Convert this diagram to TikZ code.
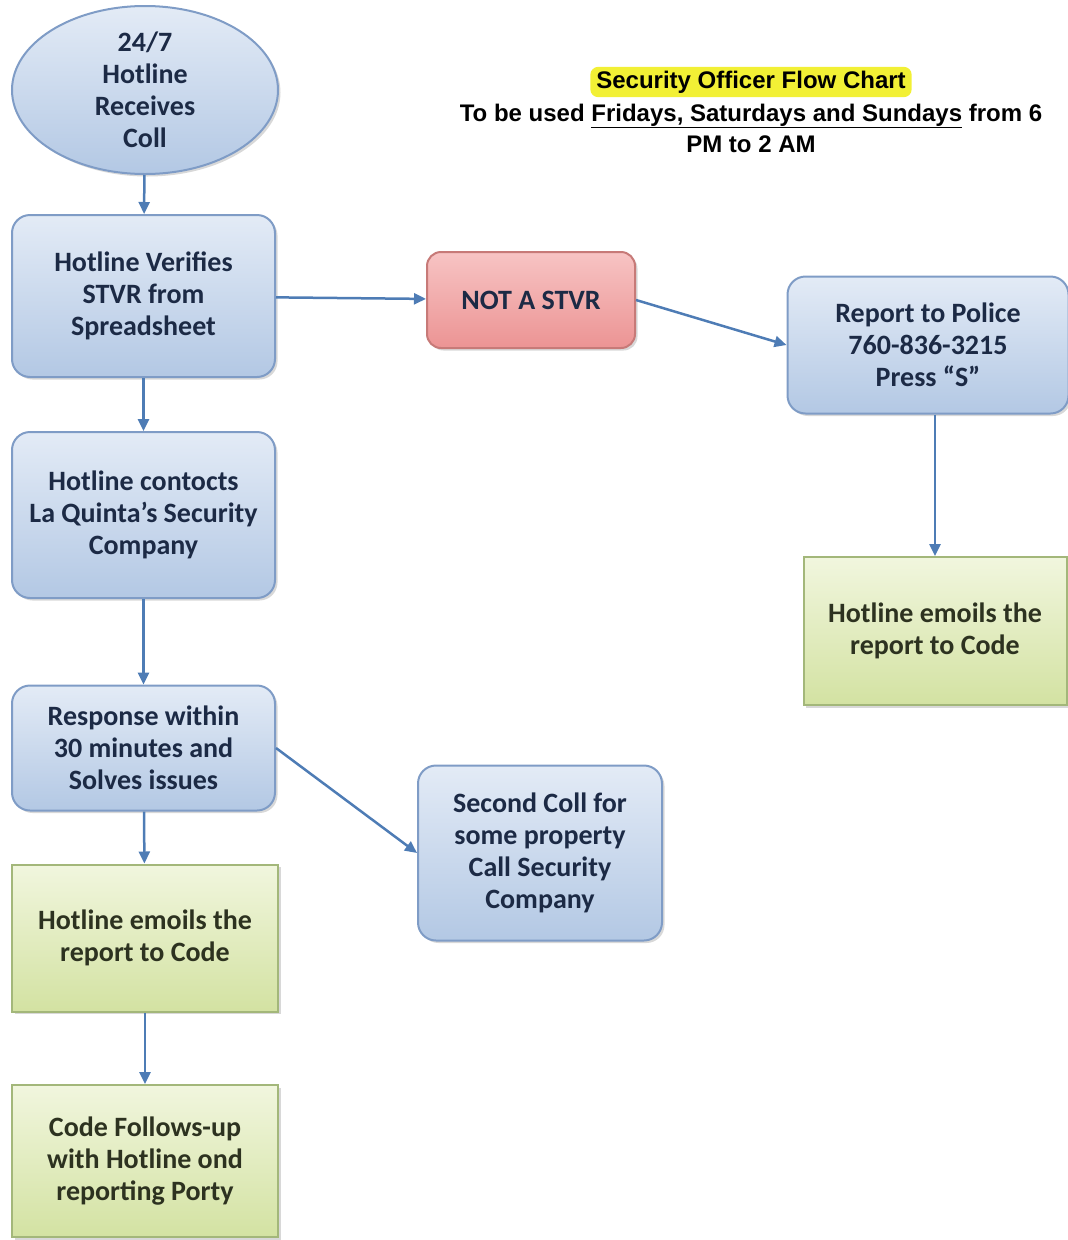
\documentclass[tikz,border=0pt]{standalone}
\usepackage{fontspec}
\setmainfont{Carlito}
\newfontfamily\headfont{Liberation Sans}
\usepackage{tikz}
\usetikzlibrary{shapes.geometric, shadows, arrows.meta}

\definecolor{bluetop}{HTML}{E3EBF6}
\definecolor{bluebot}{HTML}{B3C8E4}
\definecolor{blueline}{HTML}{7F9CC6}
\definecolor{bluetext}{HTML}{1C2A45}
\definecolor{pinktop}{HTML}{F7C4C4}
\definecolor{pinkbot}{HTML}{EC9494}
\definecolor{pinkline}{HTML}{C77A78}
\definecolor{greentop}{HTML}{F1F6DE}
\definecolor{greenbot}{HTML}{D3E2A2}
\definecolor{greenline}{HTML}{A3B77A}
\definecolor{greentext}{HTML}{2D3220}
\definecolor{arrowblue}{HTML}{4E7CB5}
\definecolor{marker}{HTML}{F2F035}

\tikzset{
    box/.style={rectangle, line width=2pt, align=center, inner sep=0pt,
        font=\bfseries\fontsize{28}{32}\selectfont,
        drop shadow={shadow xshift=2.5pt, shadow yshift=-2.5pt, fill=black!30}},
    bluebox/.style={box, rounded corners=18pt, draw=blueline, top color=bluetop,
        bottom color=bluebot, text=bluetext},
    pinkbox/.style={box, rounded corners=14pt, draw=pinkline, top color=pinktop,
        bottom color=pinkbot, text=bluetext},
    greenbox/.style={box, draw=greenline, top color=greentop,
        bottom color=greenbot, text=greentext},
    flow/.style={-{Triangle[length=12pt, width=11pt]}, line width=2.5pt, arrowblue}
}

\begin{document}
\begin{tikzpicture}[x=1pt, y=-1pt]
        \useasboundingbox (0, 0) rectangle (1068, 1240);

        \node [fill=marker, rounded corners=8pt, inner xsep=6pt, inner ysep=4pt,
            font=\headfont\bfseries\fontsize{24}{28}\selectfont] (title) at (751, 82) {Security Officer Flow Chart};
        \node [align=center, font=\headfont\bfseries\fontsize{24}{31}\selectfont] (when) at (751, 128)
            {To be used \underline{Fridays, Saturdays and Sundays} from 6\\PM to 2 AM};

        \node [bluebox, ellipse, minimum width=266, minimum height=168] (call) at (145, 90)
            {24/7\\Hotline\\Receives\\Coll};
        \node [bluebox, minimum width=263, minimum height=162] (verify) at (143.5, 296)
            {Hotline Verifies\\STVR from\\Spreadsheet};
        \node [pinkbox, minimum width=208, minimum height=96] (notstvr) at (531, 300)
            {NOT A STVR};
        \node [bluebox, minimum width=281, minimum height=137] (police) at (928, 345)
            {Report to Police\\760-836-3215\\Press “S”};
        \node [greenbox, minimum width=263, minimum height=148] (mailright) at (935, 631)
            {Hotline emoils the\\report to Code};
        \node [bluebox, minimum width=263, minimum height=166] (contact) at (143.5, 515)
            {Hotline contocts\\La Quinta’s Security\\Company};
        \node [bluebox, minimum width=263, minimum height=125] (response) at (143.5, 748)
            {Response within\\30 minutes and\\Solves issues};
        \node [bluebox, minimum width=244, minimum height=175] (second) at (540, 853)
            {Second Coll for\\some property\\Call Security\\Company};
        \node [greenbox, minimum width=266, minimum height=147] (mailleft) at (145, 938)
            {Hotline emoils the\\report to Code};
        \node [greenbox, minimum width=266, minimum height=152] (follow) at (145, 1161)
            {Code Follows-up\\with Hotline ond\\reporting Porty};

        \draw [flow] (call) to (verify);
        \draw [flow] (verify) to (notstvr);
        \draw [flow] (notstvr.east) to (police.west);
        \draw [flow] (police.south -| mailright) to (mailright);
        \draw [flow] (verify) to (contact);
        \draw [flow] (contact) to (response);
        \draw [flow] (response.east) to (second.west);
        \draw [flow] (response) to (mailleft);
        \draw [flow] (mailleft) to (follow);
    \end{tikzpicture}
\end{document}
